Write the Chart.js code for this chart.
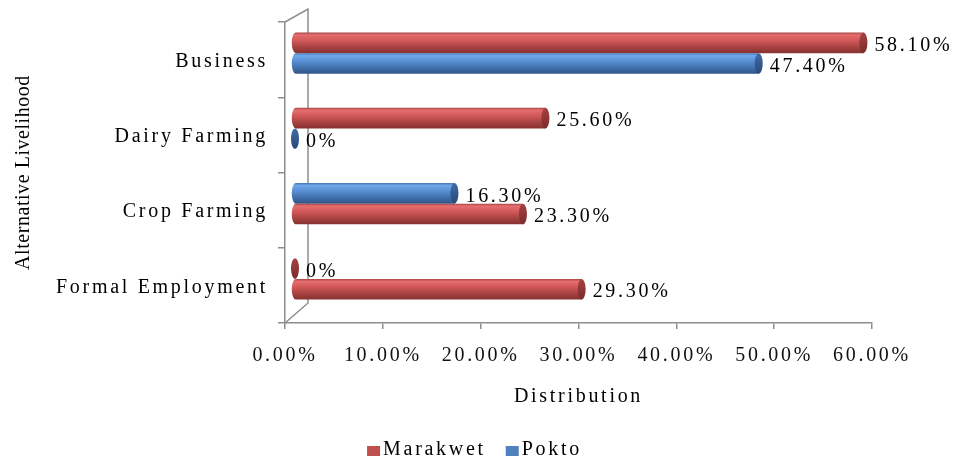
<!DOCTYPE html>
<html>
<head>
<meta charset="utf-8">
<script src="https://cdn.jsdelivr.net/npm/chart.js@4/dist/chart.umd.min.js"></script>
<style>
  html, body { margin: 0; padding: 0; background: #fff; }
  #wrap { width: 956px; height: 461px; }
</style>
</head>
<body>
<div id="wrap"><canvas id="c" width="956" height="461"></canvas></div>
<script>
// Livelihood rows, top to bottom
const categories = ['Business', 'Dairy Farming', 'Crop Farming', 'Formal Employment'];
// Each row has an upper and a lower cylinder; the group names say which community each belongs to
const upperValues = [58.1, 25.6, 16.3, 0];
const upperGroups = ['Marakwet', 'Marakwet', 'Pokto', 'Marakwet'];
const lowerValues = [47.4, 0, 23.3, 29.3];
const lowerGroups = ['Pokto', 'Pokto', 'Marakwet', 'Marakwet'];
const legendGroups = ['Marakwet', 'Pokto'];
const xTickValues = [0, 10, 20, 30, 40, 50, 60];

const FONT_FAMILY = '"Liberation Serif", "Times New Roman", serif';
const FONT_SIZE = 20;
const TEXT_SPACING = '2.7px';
const AXIS_GREY = '#8e8e8e';

const palette = {
  Marakwet: { swatch: '#c0504d', edge: '#a84444', light: '#e56e6e', mid: '#d65b5b', dark: '#a33f3f', deep: '#873030', capLight: '#a64242', capDark: '#7a2b2b' },
  Pokto:    { swatch: '#4f81bd', edge: '#4473b0', light: '#70a8ea', mid: '#5a93d7', dark: '#3e6ca6', deep: '#2f5589', capLight: '#3f6ca6', capDark: '#28497a' }
};

const fmtPct = v => (v === 0 ? '0%' : v.toFixed(2) + '%');

// The cylinders sit half way into the box, so they are drawn shifted up and right of the front axes
const DEPTH_DX = 10, DEPTH_DY = -6.5, CAP_RX = 4;

const textSpacing = {
  id: 'textSpacing',
  beforeUpdate(chart) { chart.ctx.letterSpacing = TEXT_SPACING; },
  beforeDraw(chart) { chart.ctx.letterSpacing = TEXT_SPACING; }
};

// Back wall edges of the 3-D frame
const backWall = {
  id: 'backWall',
  beforeDatasetsDraw(chart) {
    const { left, top, bottom } = chart.chartArea;
    const c = chart.ctx;
    c.save();
    c.strokeStyle = AXIS_GREY;
    c.lineWidth = 1.5;
    c.beginPath();
    c.moveTo(left, top);
    c.lineTo(left + 23, top - 13);
    c.lineTo(left + 23, bottom - 20);
    c.lineTo(left, bottom);
    c.stroke();
    c.restore();
  }
};

// Cylinders and value labels, drawn from the bar elements laid out by Chart.js
const cylinders = {
  id: 'cylinders',
  afterDatasetsDraw(chart) {
    const c = chart.ctx;
    c.save();
    chart.data.datasets.forEach((ds, di) => {
      const meta = chart.getDatasetMeta(di);
      meta.data.forEach((bar, i) => {
        const { x, y, base, height } = bar.getProps(['x', 'y', 'base', 'height'], true);
        const col = palette[ds.groups[i]];
        const x0 = base + DEPTH_DX, x1 = x + DEPTH_DX, cy = y + DEPTH_DY;
        const ry = height / 2, top = cy - ry, bot = cy + ry;

        if (x1 - x0 > 0.5) {
          const g = c.createLinearGradient(0, top, 0, bot);
          g.addColorStop(0, col.edge);
          g.addColorStop(0.12, col.light);
          g.addColorStop(0.35, col.mid);
          g.addColorStop(0.75, col.dark);
          g.addColorStop(1, col.deep);
          c.beginPath();
          c.moveTo(x1, top);
          c.lineTo(x0, top);
          c.ellipse(x0, cy, CAP_RX, ry, 0, -Math.PI / 2, Math.PI / 2, true);
          c.lineTo(x1, bot);
          c.closePath();
          c.fillStyle = g;
          c.fill();
        }

        const cg = c.createLinearGradient(0, top, 0, bot);
        cg.addColorStop(0, col.capLight);
        cg.addColorStop(1, col.capDark);
        c.beginPath();
        c.ellipse(x1, cy, CAP_RX, ry, 0, 0, Math.PI * 2);
        c.fillStyle = cg;
        c.fill();

        c.font = FONT_SIZE + 'px ' + FONT_FAMILY;
        c.letterSpacing = TEXT_SPACING;
        c.fillStyle = '#000';
        c.textAlign = 'left';
        c.textBaseline = 'middle';
        c.fillText(fmtPct(ds.data[i]), x1 + CAP_RX + 7, cy + 3);
      });
    });
    c.restore();
  }
};

// Vertical axis title and the legend row
const extraText = {
  id: 'extraText',
  afterDraw(chart) {
    const { top, bottom } = chart.chartArea;
    const c = chart.ctx;
    c.save();
    c.font = FONT_SIZE + 'px ' + FONT_FAMILY;
    c.fillStyle = '#000';
    c.textBaseline = 'middle';

    c.save();
    c.translate(24, (top + bottom) / 2);
    c.rotate(-Math.PI / 2);
    c.letterSpacing = '0.55px';
    c.textAlign = 'center';
    c.fillText('Alternative Livelihood', 0, 0);
    c.restore();

    // legend: swatch, small gap, name; items separated by a wider gap
    c.letterSpacing = TEXT_SPACING;
    c.textAlign = 'left';
    const boxW = 13, boxH = 10, boxGap = 3, itemGap = 20, cy = 450, centerX = 474.5;
    const widths = legendGroups.map(g => c.measureText(g).width);
    const total = widths.reduce((s, w) => s + boxW + boxGap + w, 0) + itemGap * (legendGroups.length - 1);
    let lx = centerX - total / 2;
    legendGroups.forEach((g, k) => {
      c.fillStyle = palette[g].swatch;
      c.fillRect(lx, cy - boxH / 2 + 1, boxW, boxH);
      c.fillStyle = '#000';
      c.fillText(g, lx + boxW + boxGap, cy);
      lx += boxW + boxGap + widths[k] + itemGap;
    });
    c.restore();
  }
};

const labelFont = { family: FONT_FAMILY, size: FONT_SIZE };

new Chart(document.getElementById('c'), {
  type: 'bar',
  data: {
    labels: categories,
    datasets: [
      { label: 'upper', data: upperValues, groups: upperGroups, backgroundColor: 'rgba(0,0,0,0)', borderColor: 'rgba(0,0,0,0)', borderWidth: 0 },
      { label: 'lower', data: lowerValues, groups: lowerGroups, backgroundColor: 'rgba(0,0,0,0)', borderColor: 'rgba(0,0,0,0)', borderWidth: 0 }
    ]
  },
  options: {
    indexAxis: 'y',
    responsive: false,
    animation: false,
    devicePixelRatio: 1,
    events: [],
    categoryPercentage: 0.55,
    barPercentage: 1,
    layout: { padding: { top: 22, right: 84, left: 0, bottom: 37.5 } },
    scales: {
      x: {
        type: 'linear',
        min: 0,
        max: 60,
        afterBuildTicks: scale => { scale.ticks = xTickValues.map(v => ({ value: v })); },
        afterFit: scale => { scale.height = 100.5; },
        ticks: {
          callback: v => v.toFixed(2) + '%',
          font: labelFont,
          color: '#111',
          padding: 15,
          maxRotation: 0,
          autoSkip: false
        },
        grid: { drawOnChartArea: false, drawTicks: true, tickLength: 6, color: AXIS_GREY, lineWidth: 1.5 },
        border: { display: true, color: AXIS_GREY, width: 1.5 },
        title: {
          display: true,
          text: 'Distribution',
          font: labelFont,
          color: '#000',
          padding: { top: 0, bottom: 15 }
        }
      },
      y: {
        afterFit: scale => { scale.width = 285; },
        ticks: { font: labelFont, color: '#000', padding: 10, labelOffset: 2 },
        grid: { offset: true, drawOnChartArea: false, drawTicks: true, tickLength: 7, color: AXIS_GREY, lineWidth: 1.5 },
        border: { display: true, color: AXIS_GREY, width: 1.5 }
      }
    },
    plugins: {
      colors: { enabled: false },
      tooltip: { enabled: false },
      legend: { display: false }
    }
  },
  plugins: [textSpacing, backWall, cylinders, extraText]
});
</script>
</body>
</html>
